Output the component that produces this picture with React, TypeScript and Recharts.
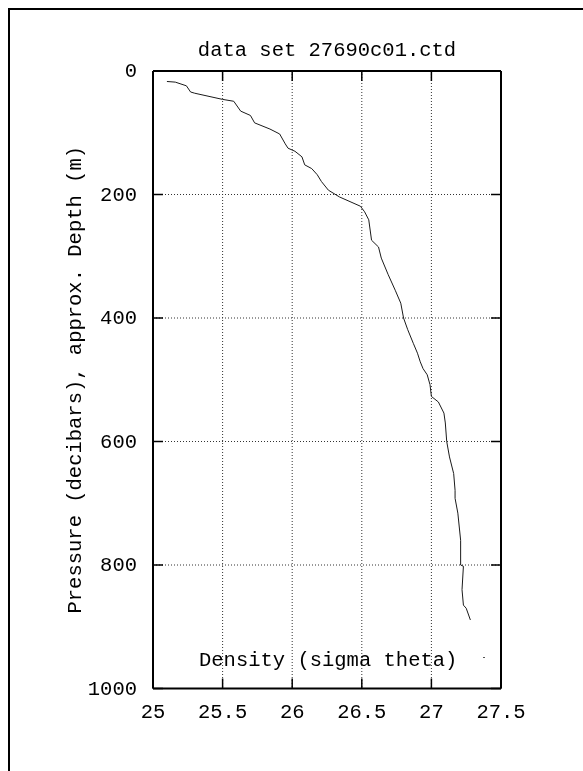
import React from 'react';
import {
  ScatterChart,
  Scatter,
  XAxis,
  YAxis,
  CartesianGrid,
  Legend,
  Label,
} from 'recharts';

// density profile (pressure in dbar, sigma theta)
const PRESSURE = [
  17, 18, 24, 34, 36, 46, 49, 65, 72, 84, 94, 102, 118, 125, 130, 139, 152, 158, 168, 179,
  193, 204, 219, 228, 241, 274, 285, 303, 330, 355, 376, 400, 419, 441, 457, 471, 482, 492,
  508, 527, 536, 554, 570, 600, 625, 652, 679, 692, 716, 760, 800, 802, 840, 865, 870, 889,
];
const DENSITY = [
  25.1, 25.16, 25.24, 25.27, 25.3, 25.5, 25.58, 25.63, 25.7, 25.73, 25.84, 25.91, 25.95, 25.97,
  26.02, 26.07, 26.09, 26.14, 26.18, 26.21, 26.26, 26.34, 26.49, 26.52, 26.55, 26.57, 26.62,
  26.64, 26.69, 26.74, 26.78, 26.8, 26.83, 26.87, 26.9, 26.92, 26.94, 26.97, 26.99, 27.0,
  27.05, 27.09, 27.1, 27.11, 27.13, 27.16, 27.17, 27.17, 27.19, 27.21, 27.21, 27.23, 27.22,
  27.23, 27.25, 27.28,
];
const X_TICKS = [25, 25.5, 26, 26.5, 27, 27.5];
const Y_TICKS = [0, 200, 400, 600, 800, 1000];

const TITLE = 'data set 27690c01.ctd';
const Y_LABEL = 'Pressure (decibars), approx. Depth (m)';
const SERIES_NAME = 'Density (sigma theta)';

const profile = PRESSURE.map((p, i) => ({ pressure: p, density: DENSITY[i] }));

const FONT = "'Liberation Mono', 'DejaVu Sans Mono', monospace";
const FS = 20.5;
const TICK_LEN = 10;

const BottomTick = ({ x, y, payload }: any) => (
  <g>
    <line x1={x} y1={y} x2={x} y2={y - TICK_LEN} stroke="#000" strokeWidth={1.5} />
    <text x={x} y={y + 29} textAnchor="middle" fontFamily={FONT} fontSize={FS} fill="#000">
      {payload.value}
    </text>
  </g>
);

const TopTick = ({ x, y }: any) => (
  <line x1={x} y1={y} x2={x} y2={y + TICK_LEN} stroke="#000" strokeWidth={1.5} />
);

const LeftTick = ({ x, y, payload }: any) => (
  <g>
    <line x1={x} y1={y} x2={x + TICK_LEN} y2={y} stroke="#000" strokeWidth={1.5} />
    <text x={x - 16} y={y + 6} textAnchor="end" fontFamily={FONT} fontSize={FS} fill="#000">
      {payload.value}
    </text>
  </g>
);

const RightTick = ({ x, y }: any) => (
  <line x1={x} y1={y} x2={x - TICK_LEN} y2={y} stroke="#000" strokeWidth={1.5} />
);

const TitleLabel = ({ viewBox }: any) => (
  <text
    x={viewBox.x + viewBox.width / 2}
    y={viewBox.y + viewBox.height - 15}
    textAnchor="middle"
    fontFamily={FONT}
    fontSize={FS}
    fill="#000"
  >
    {TITLE}
  </text>
);

const YTitle = ({ viewBox }: any) => {
  const cx = viewBox.x + 8;
  const cy = viewBox.y + viewBox.height / 2;
  return (
    <text
      x={cx}
      y={cy}
      transform={`rotate(-90, ${cx}, ${cy})`}
      textAnchor="middle"
      fontFamily={FONT}
      fontSize={FS}
      fill="#000"
    >
      {Y_LABEL}
    </text>
  );
};

const KeyBox = () => (
  <svg width={320} height={30} style={{ display: 'block' }}>
    <text x={11} y={23} fontFamily={FONT} fontSize={FS} fill="#000">
      {SERIES_NAME}
    </text>
    <rect x={295} y={14} width={2} height={1} fill="#555" />
  </svg>
);

const NoDot = () => <g />;

export default function App() {
  return (
    <div style={{ position: 'relative' }}>
      <div
        style={{
          position: 'fixed',
          left: 8,
          top: 8,
          width: 700,
          height: 900,
          borderLeft: '2px solid #000',
          borderTop: '2px solid #000',
          pointerEvents: 'none',
        }}
      />
      <ScatterChart
        width={567}
        height={755}
        margin={{ top: 62, right: 73, bottom: 44.5, left: 65 }}
      >
        <CartesianGrid stroke="#333" strokeDasharray="1 2" />
        <XAxis
          type="number"
          dataKey="density"
          domain={[25, 27.5]}
          ticks={X_TICKS}
          height={30}
          axisLine={{ stroke: '#000', strokeWidth: 2 }}
          tickLine={false}
          tickSize={0}
          tickMargin={0}
          tick={<BottomTick />}
          interval={0}
        />
        <XAxis
          xAxisId="top"
          orientation="top"
          type="number"
          dataKey="density"
          domain={[25, 27.5]}
          ticks={X_TICKS}
          height={1}
          axisLine={{ stroke: '#000', strokeWidth: 2 }}
          tickLine={false}
          tickSize={0}
          tickMargin={0}
          tick={<TopTick />}
          interval={0}
        >
          <Label content={<TitleLabel />} />
        </XAxis>
        <YAxis
          type="number"
          dataKey="pressure"
          domain={[0, 1000]}
          reversed
          ticks={Y_TICKS}
          width={80}
          axisLine={{ stroke: '#000', strokeWidth: 2 }}
          tickLine={false}
          tickSize={0}
          tickMargin={0}
          tick={<LeftTick />}
          interval={0}
        >
          <Label content={<YTitle />} />
        </YAxis>
        <YAxis
          yAxisId="right"
          orientation="right"
          type="number"
          dataKey="pressure"
          domain={[0, 1000]}
          reversed
          ticks={Y_TICKS}
          width={1}
          axisLine={{ stroke: '#000', strokeWidth: 2 }}
          tickLine={false}
          tickSize={0}
          tickMargin={0}
          tick={<RightTick />}
          interval={0}
        />
        <Legend
          layout="horizontal"
          verticalAlign="middle"
          align="center"
          content={<KeyBox />}
          wrapperStyle={{ left: 180, top: 635, width: 320, height: 30 }}
        />
        {/* same profile on the mirrored axes, invisible, so the top/right frame gets drawn */}
        <Scatter
          xAxisId="top"
          yAxisId="right"
          data={profile}
          shape={<NoDot />}
          legendType="none"
          isAnimationActive={false}
        />
        <Scatter
          name={SERIES_NAME}
          data={profile}
          line={{ stroke: '#1a1a1a', strokeWidth: 1 }}
          shape={<NoDot />}
          isAnimationActive={false}
        />
      </ScatterChart>
    </div>
  );
}
